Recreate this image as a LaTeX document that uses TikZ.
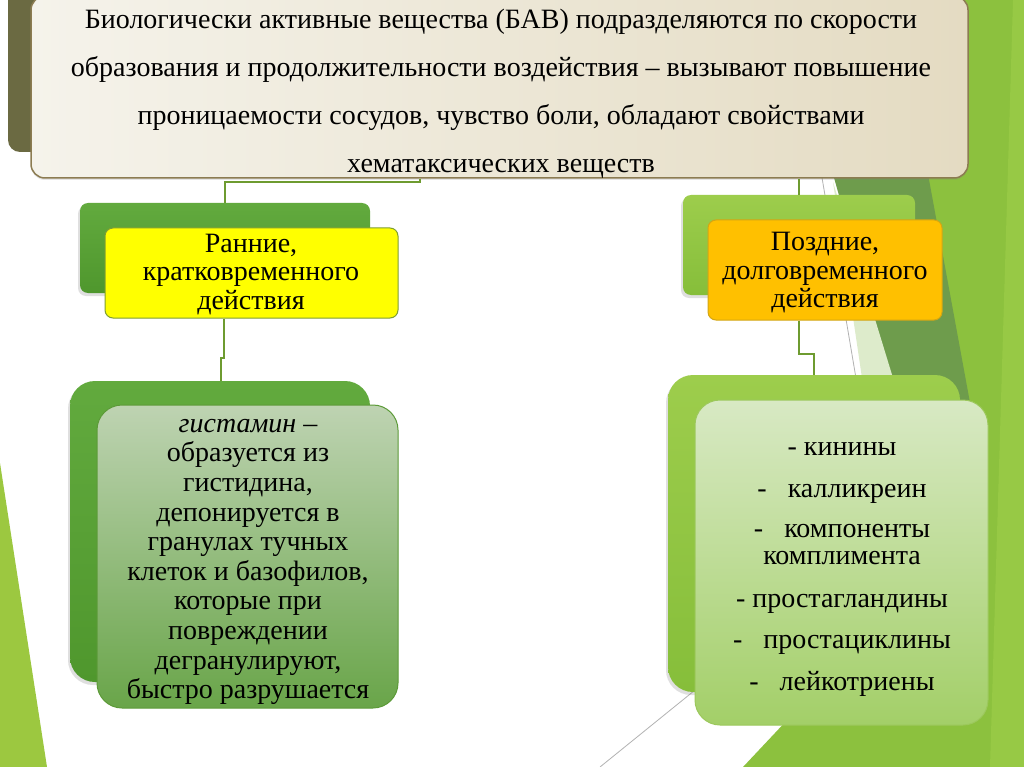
\documentclass[tikz,border=0pt]{standalone}
\usepackage{fontspec}
\setmainfont{Liberation Serif}
\usetikzlibrary{shadows}
\definecolor{olive}{HTML}{6B6A42}
\definecolor{lgreen}{HTML}{8CC13E}
\definecolor{lgreen2}{HTML}{97C945}
\definecolor{leftgreen}{HTML}{9CC840}
\definecolor{dgreen}{HTML}{6E9C4C}
\definecolor{pale}{HTML}{DDEBCB}
\definecolor{conncol}{HTML}{6E9B30}
\definecolor{dbtop}{HTML}{62AA3E}
\definecolor{dbbot}{HTML}{4F972D}
\definecolor{lbtop}{HTML}{9DCD4C}
\definecolor{lbbot}{HTML}{86BE3A}
\definecolor{titleL}{HTML}{F5F3EB}
\definecolor{titleR}{HTML}{E4DBC2}
\definecolor{titleB}{HTML}{8C7C52}
\definecolor{yel}{HTML}{FFFF00}
\definecolor{ora}{HTML}{FFC000}
\definecolor{hdrB}{HTML}{7E9E32}
\definecolor{lbodyT}{HTML}{BED3B2}
\definecolor{lbodyB}{HTML}{69A549}
\definecolor{lbodyD}{HTML}{5C9A38}
\definecolor{rbodyT}{HTML}{D8E9C4}
\definecolor{rbodyB}{HTML}{A3CF68}
\definecolor{rbodyD}{HTML}{9CC85C}
\begin{document}
\begin{tikzpicture}[x=1pt,y=-1pt,
  conn/.style={draw=conncol,line width=2pt},
  box/.style={rectangle,inner sep=0pt,align=center},
  txt/.style={inner sep=0pt,align=center},
  shad/.style={drop shadow={opacity=0.25,shadow xshift=-2pt,shadow yshift=-3pt}},
  darkback/.style={box,shad,top color=dbtop,bottom color=dbbot},
  lightback/.style={box,shad,top color=lbtop,bottom color=lbbot},
  hdr/.style={box,rounded corners=8pt,line width=1pt},
  hdrtxt/.style={txt,font=\fontsize{28}{28.5}\selectfont},
  body/.style={box,rounded corners=25pt,line width=1pt},
]
\useasboundingbox (0,0) rectangle (1024,767);
\fill[white] (0,0) rectangle (1024,767);
% background decoration
\fill[lgreen] (896,0) -- (1024,0) -- (1024,767) -- (743,767) -- (900,600) -- cycle;
\fill[lgreen2] (1013,0) -- (1024,0) -- (1024,767) -- (990,767) -- cycle;
\fill[dgreen] (784,0) -- (896,0) -- (975,430) -- (905,430) -- cycle;
\fill[pale] (833,182) -- (893,378) -- (862,378) -- cycle;
\draw[gray!60,line width=0.8pt] (819,160) -- (858,390);
\draw[gray!60,line width=0.8pt] (600,767) -- (705,682);
\fill[leftgreen] (0,463) -- (47,767) -- (0,767) -- cycle;
\fill[olive,rounded corners=12pt] (8,-30) rectangle (250,152);
% boxes (back)
\node[darkback,rounded corners=8pt,minimum width=290pt,minimum height=90pt] (lhb) at (225,248) {};
\node[lightback,rounded corners=8pt,minimum width=232pt,minimum height=100pt] (rhb) at (799,245) {};
\node[darkback,rounded corners=25pt,minimum width=300pt,minimum height=301pt] (lbb) at (220,531.5) {};
\node[lightback,rounded corners=25pt,minimum width=292pt,minimum height=317pt] (rbb) at (814,533.5) {};
% title
\node[box,rounded corners=14pt,minimum width=937pt,minimum height=182pt,
  left color=titleL,right color=titleR,draw=titleB,line width=1.5pt,
  drop shadow={opacity=0.2,shadow xshift=0pt,shadow yshift=-2pt}] (title) at (499.5,87) {};
\node[txt,font=\fontsize{28}{48}\selectfont] (titletext) at (501,93.5)
  {Биологически активные вещества (БАВ) подразделяются по скорости\\
   образования и продолжительности воздействия – вызывают повышение\\
   проницаемости сосудов, чувство боли, обладают свойствами\\
   хематаксических веществ};
% connectors
\draw[conn] ([xshift=-80pt]title.south) -- ++(0,3) -| (lhb.north);
\draw[conn] (title.south -| rhb.north) -- (rhb.north);
% headers
\node[hdr,fill=yel,draw=hdrB,minimum width=293pt,minimum height=90pt] (lh) at (251.5,273) {};
\node[hdrtxt] (lhtext) at (251,274.5) {Ранние,\\кратковременного\\действия};
\node[hdr,fill=ora,draw=ora!70!olive,minimum width=234pt,minimum height=100pt] (rh) at (825,270) {};
\node[hdrtxt] (rhtext) at (825,273) {Поздние,\\долговременного\\действия};
% lower connectors
\draw[conn] ([xshift=4pt]lh.south -| lbb.north) -- ++(0,39) -- ++(-3,0) -- ([xshift=1pt]lbb.north);
\draw[conn] (rh.south -| rhb.north) -- ++(0,33) -| (rbb.north);
% body boxes
\node[body,top color=lbodyT,bottom color=lbodyB,draw=lbodyD,minimum width=301pt,minimum height=303pt] (lb) at (247.5,556.5) {};
\node[txt,font=\fontsize{28}{29.6}\selectfont] (lbtext) at (248,562)
  {\textit{гистамин} –\\образуется из\\гистидина,\\депонируется в\\гранулах тучных\\клеток и базофилов,\\которые при\\повреждении\\дегранулируют,\\быстро разрушается};
\node[body,top color=rbodyT,bottom color=rbodyB,draw=rbodyD,minimum width=293pt,minimum height=325pt] (rb) at (841.5,562.5) {};
\node[txt,font=\fontsize{28}{27}\selectfont] (rbtext) at (842,569.5)
  {- кинины\\[15pt]
   -\ \ \ калликреин\\[13pt]
   -\ \ \ компоненты\\комплимента\\[16pt]
   - простагландины\\[14pt]
   -\ \ \ простациклины\\[15pt]
   -\ \ \ лейкотриены};
\end{tikzpicture}
\end{document}
